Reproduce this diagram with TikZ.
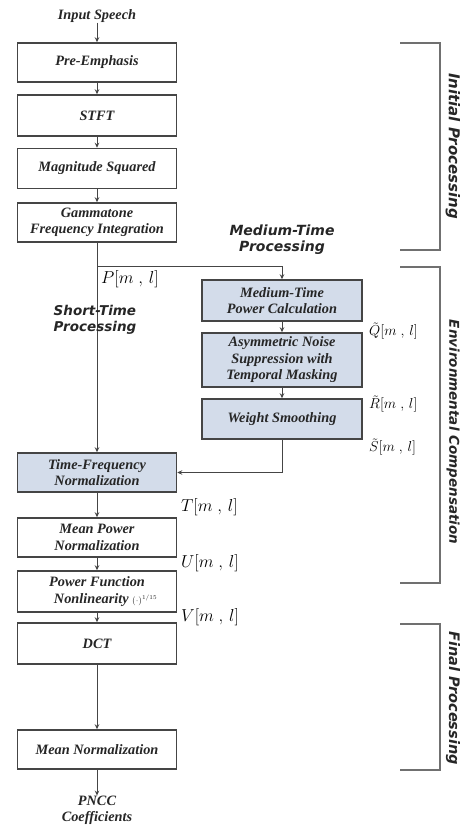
\documentclass[tikz,border=0pt]{standalone}
\usepackage{fontspec}
\setmainfont{Liberation Serif}
\setsansfont{DejaVu Sans}
\usetikzlibrary{arrows.meta}
\definecolor{boxline}{HTML}{454545}
\definecolor{bluefill}{HTML}{D3DCEA}
\definecolor{brk}{HTML}{707070}
\tikzset{
  blk/.style={draw=boxline, line width=1.5pt, minimum width=159pt, inner sep=0pt, align=center,
    font=\bfseries\itshape\fontsize{14.3}{16.5}\selectfont, text=black!85},
  bblk/.style={blk, fill=bluefill},
  conn/.style={draw=boxline, line width=1pt, -{Stealth[length=5pt,width=4.5pt]}},
  brack/.style={draw=brk, line width=1.5pt},
  sidelbl/.style={font=\sffamily\bfseries\itshape, rotate=-90, text=black!85},
  proclbl/.style={font=\sffamily\bfseries\itshape\fontsize{14}{16}\selectfont, text=black!85},
  mlbl/.style={font=\fontsize{16}{18}\selectfont, inner sep=0pt},
  slbl/.style={font=\fontsize{14}{16}\selectfont, inner sep=0pt},
  txt/.style={font=\bfseries\itshape\fontsize{14.3}{16}\selectfont, align=center, inner sep=0pt, text=black!85}
}
\begin{document}
\begin{tikzpicture}[x=1pt,y=-1pt]
\useasboundingbox (0,0) rectangle (460,830);
% left column
\node[txt] (input) at (97,16) {Input Speech};
\node[blk, minimum height=39pt] (pre) at (97,62.5) {Pre-Emphasis};
\node[blk, minimum height=41pt] (stft) at (97,115.5) {STFT};
\node[blk, minimum height=40pt] (mag) at (97,168.5) {Magnitude Squared};
\node[blk, minimum height=39pt] (gam) at (97,222.5) {Gammatone\\Frequency Integration};
% medium column
\node[bblk, minimum width=160pt, minimum height=41pt] (med) at (282,300.5) {Medium-Time\\Power Calculation};
\node[bblk, minimum width=160pt, minimum height=54pt] (asym) at (282,360) {Asymmetric Noise\\Suppression with\\Temporal Masking};
\node[bblk, minimum width=160pt, minimum height=40pt] (ws) at (282,419) {Weight Smoothing};
% lower column
\node[bblk, minimum height=39pt] (tf) at (97,472.5) {Time-Frequency\\Normalization};
\node[blk, minimum height=39pt] (mp) at (97,537.5) {Mean Power\\Normalization};
\node[blk, minimum height=41pt] (pf) at (97,591.5) {Power Function\\\hspace*{1.2em}Nonlinearity {\normalfont\small$(\cdot)^{1/15}$}};
\node[blk, minimum height=41pt] (dct) at (97,643.5) {DCT};
\node[blk, minimum height=39pt] (mn) at (97,749.5) {Mean Normalization};
\node[txt] (pncc) at (97,810) {PNCC\\Coefficients};
% connectors
\coordinate (br) at (97,266);
\draw[conn] (input) -- (pre);
\draw[conn] (pre) -- (stft);
\draw[conn] (stft) -- (mag);
\draw[conn] (mag) -- (gam);
\draw[conn] (gam) -- (tf);
\draw[conn] (br) -| (med.north);
\draw[conn] (med) -- (asym);
\draw[conn] (asym) -- (ws);
\draw[conn] (ws.south) |- (tf.east);
\draw[conn] (tf) -- (mp);
\draw[conn] (mp) -- (pf);
\draw[conn] (pf) -- (dct);
\draw[conn] (dct) -- (mn);
\draw[conn] (mn) -- (pncc);
% signal labels
\node[mlbl, anchor=west] (lp) at (101,279) {$P[m\;,\,l]$};
\node[slbl, anchor=west] (lq) at (369,331) {$\tilde{Q}[m\;,\,l]$};
\node[slbl, anchor=west] (lr) at (369,404) {$\tilde{R}[m\;,\,l]$};
\node[slbl, anchor=west] (ls) at (369,447) {$\tilde{S}[m\;,\,l]$};
\node[mlbl, anchor=west] (lt) at (181,507) {$T[m\;,\,l]$};
\node[mlbl, anchor=west] (lu) at (181,563) {$U[m\;,\,l]$};
\node[mlbl, anchor=west] (lv) at (181,617) {$V[m\;,\,l]$};
% process labels
\node[proclbl, align=center] (mtp) at (282,240) {Medium-Time\\Processing};
\node[proclbl, align=left, font=\sffamily\bfseries\itshape\fontsize{13.5}{16}\selectfont] (stp) at (95,320) {Short-Time\\Processing};
% brackets
\draw[brack] (400,43) -- (440,43) -- (440,250) -- (400,250);
\draw[brack] (400,267) -- (440,267) -- (440,583) -- (400,583);
\draw[brack] (400,624) -- (440,624) -- (440,770) -- (400,770);
\node[sidelbl, font=\sffamily\bfseries\itshape\fontsize{15}{17}\selectfont] (ip) at (453,146) {Initial Processing};
\node[sidelbl, font=\sffamily\bfseries\itshape\fontsize{13.5}{16}\selectfont] (ec) at (453,432) {Environmental Compensation};
\node[sidelbl, font=\sffamily\bfseries\itshape\fontsize{14.5}{16}\selectfont] (fp) at (453,698) {Final Processing};
\end{tikzpicture}
\end{document}
